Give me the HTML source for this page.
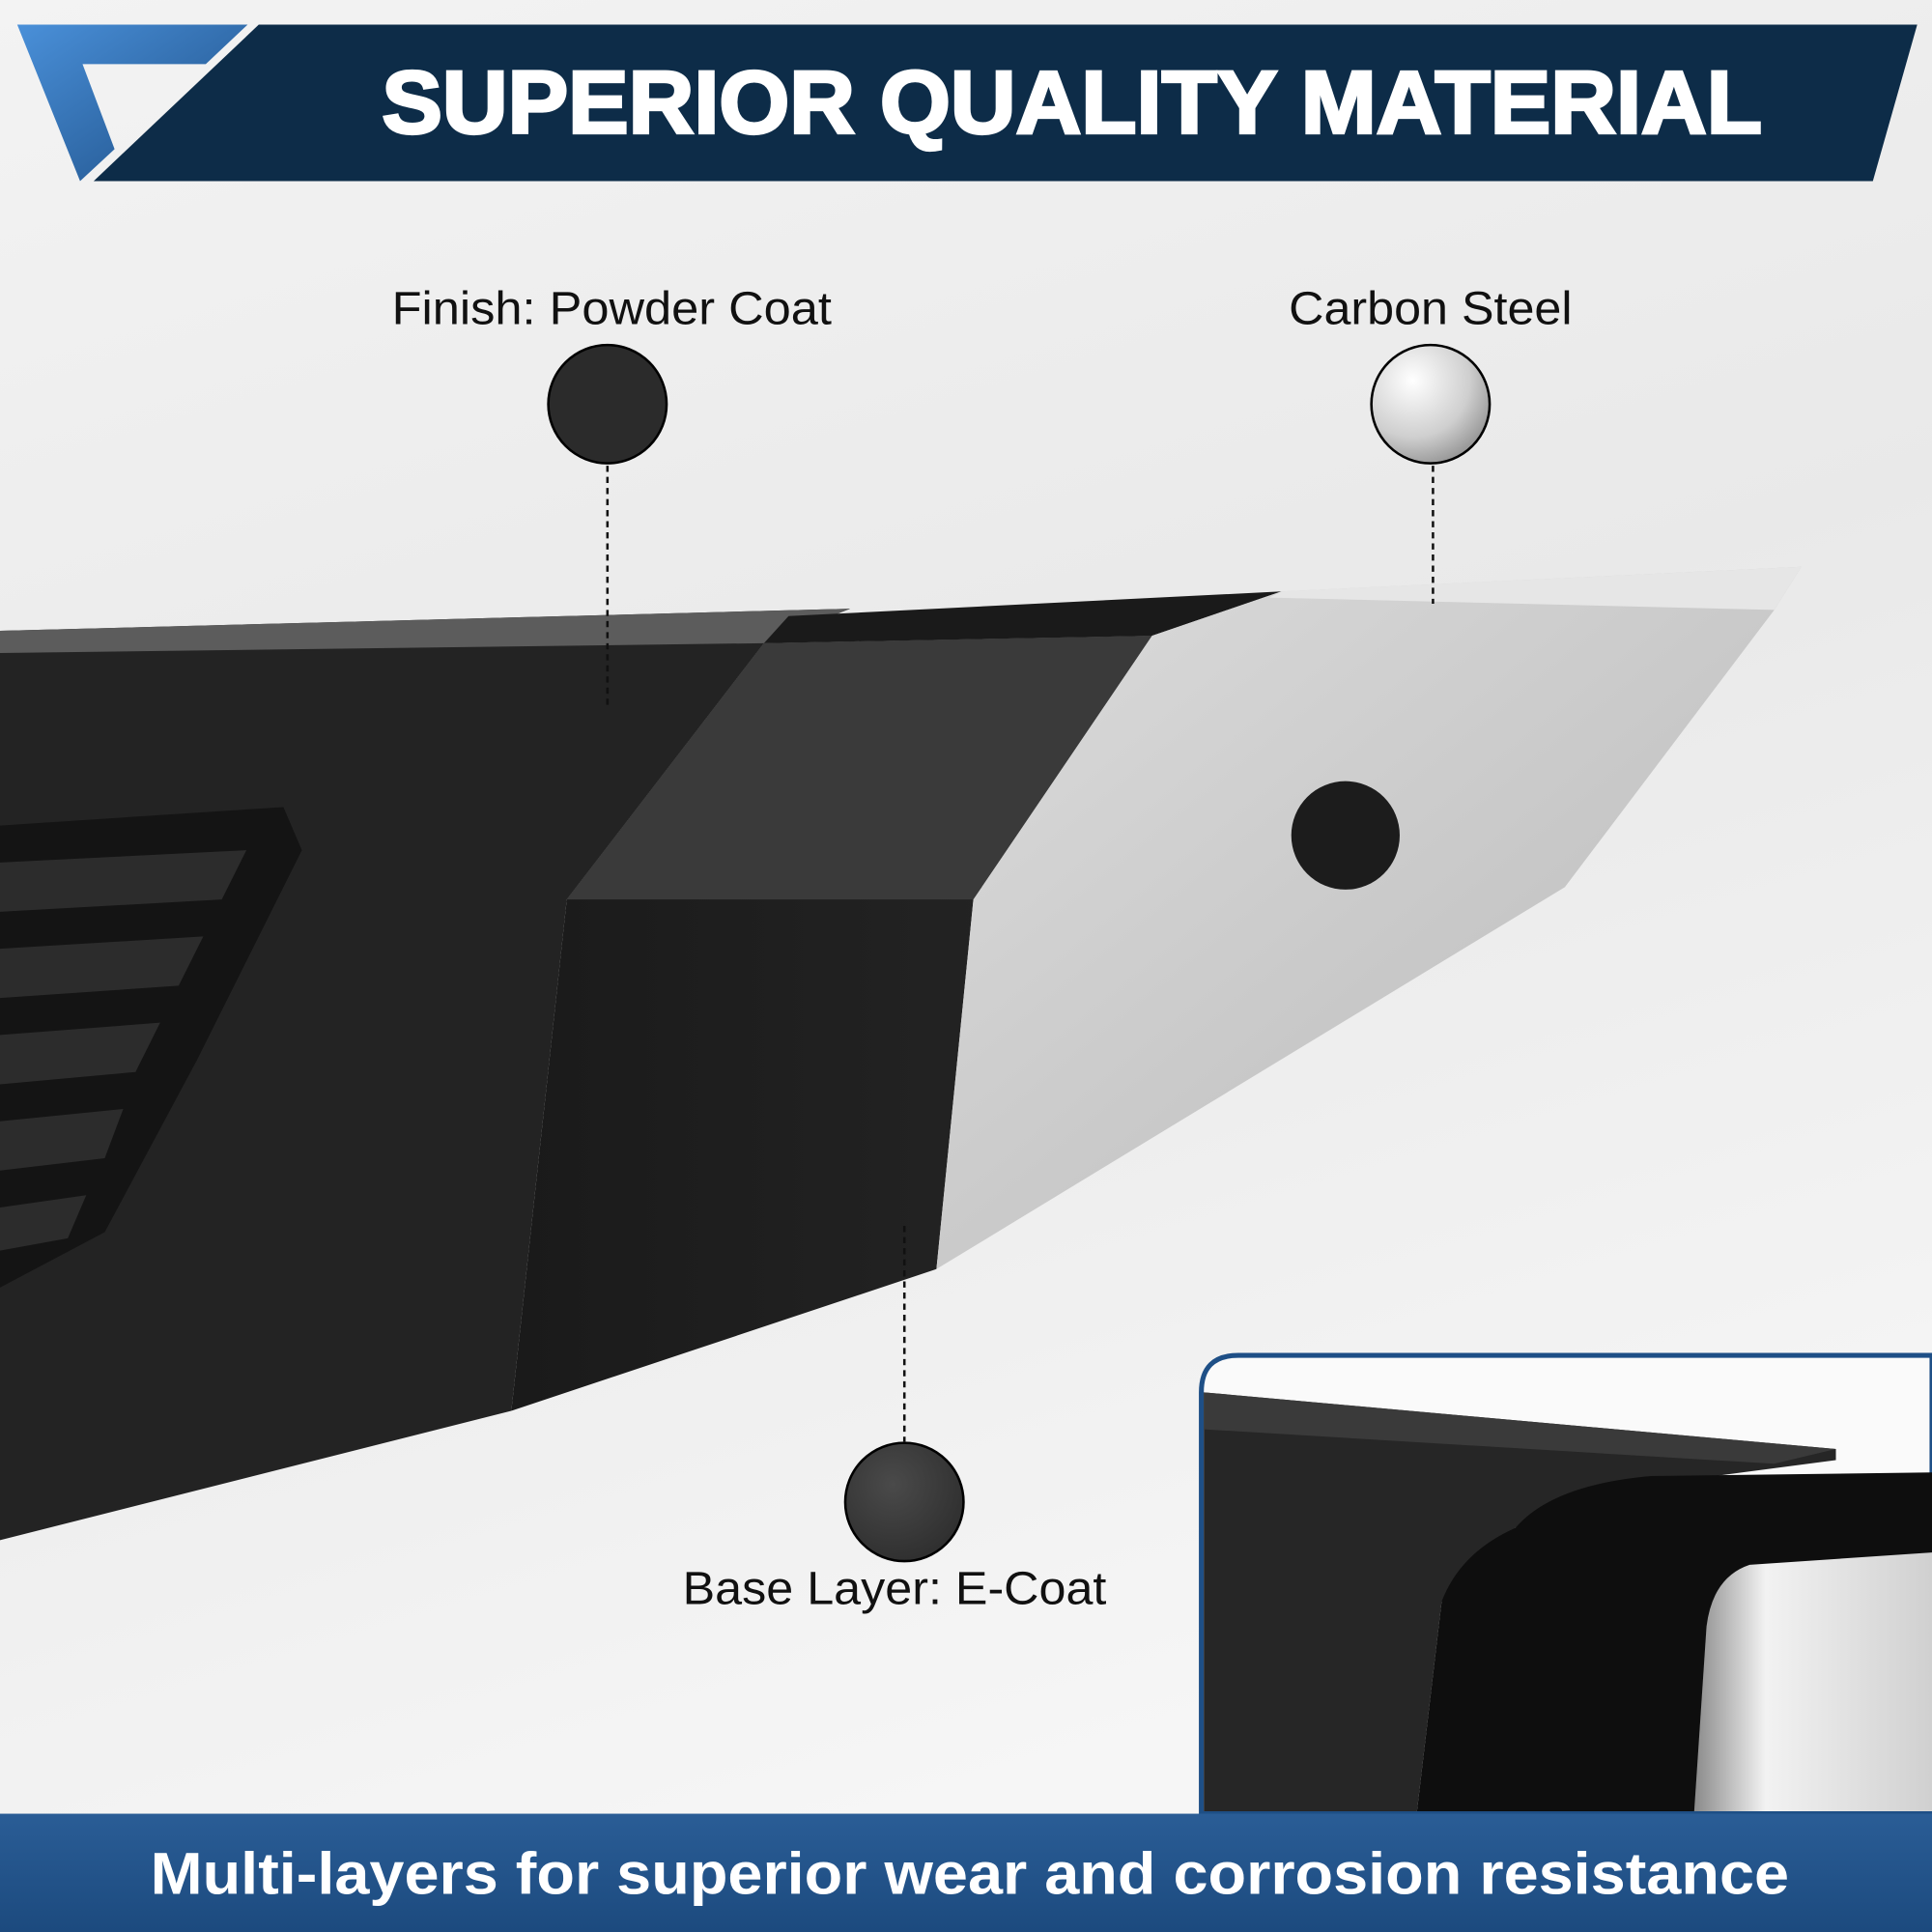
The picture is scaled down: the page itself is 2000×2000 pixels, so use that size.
<!DOCTYPE html>
<html><head><meta charset="utf-8"><style>
html,body{margin:0;padding:0;width:2000px;height:2000px;overflow:hidden;background:#eee}
svg{display:block}
text{font-family:"Liberation Sans",Arial,sans-serif}
</style></head><body>
<svg width="2000" height="2000" viewBox="0 0 1568 1568" xmlns="http://www.w3.org/2000/svg">
<defs>
<linearGradient id="bg" x1="0" y1="0" x2="0.3" y2="1">
<stop offset="0" stop-color="#f3f3f3"/><stop offset="0.5" stop-color="#e9e9e9"/><stop offset="1" stop-color="#f6f6f6"/></linearGradient>
<linearGradient id="logo" x1="0" y1="0" x2="1" y2="1">
<stop offset="0" stop-color="#4a90d9"/><stop offset="1" stop-color="#1d4e85"/></linearGradient>
<linearGradient id="bot" x1="0" y1="0" x2="0" y2="1">
<stop offset="0" stop-color="#2a5d96"/><stop offset="1" stop-color="#1c4a7e"/></linearGradient>
<linearGradient id="silver" x1="0" y1="0" x2="1" y2="1">
<stop offset="0" stop-color="#dcdcdc"/><stop offset="0.5" stop-color="#cacaca"/><stop offset="1" stop-color="#b8b8b8"/></linearGradient>
<radialGradient id="csteel" cx="0.35" cy="0.3" r="0.8">
<stop offset="0" stop-color="#ffffff"/><stop offset="0.6" stop-color="#cfcfcf"/><stop offset="1" stop-color="#8a8a8a"/></radialGradient>
<radialGradient id="ecoat" cx="0.4" cy="0.35" r="0.8">
<stop offset="0" stop-color="#4a4a4a"/><stop offset="1" stop-color="#2a2a2a"/></radialGradient>
<linearGradient id="ecblk" x1="0" y1="0" x2="1" y2="0">
<stop offset="0" stop-color="#1a1a1a"/><stop offset="1" stop-color="#262626"/></linearGradient>
<linearGradient id="insetSilver" x1="0" y1="0" x2="1" y2="0">
<stop offset="0" stop-color="#8a8a8a"/><stop offset="0.3" stop-color="#f2f2f2"/><stop offset="1" stop-color="#d0d0d0"/></linearGradient>
</defs>
<rect width="1568" height="1568" fill="url(#bg)"/>

<!-- top banner -->
<polygon points="14,20 201,20 167,52 67,52 93,121 65,147" fill="url(#logo)"/>
<polygon points="210,20 1556,20 1520,147 76,147" fill="#0d2c48"/>
<text x="310" y="108" textLength="1120" lengthAdjust="spacingAndGlyphs" font-size="72" font-weight="900" fill="#fff" stroke="#fff" stroke-width="2.5">SUPERIOR QUALITY MATERIAL</text>

<!-- rail: powder coat -->
<polygon points="0,512 690,494 620,522 460,730 415,1145 0,1250" fill="#232323"/>
<polygon points="0,512 690,494 620,522 0,530" fill="#5c5c5c"/>
<!-- vent -->
<polygon points="0,670 230,655 245,690 160,860 85,1000 0,1045" fill="#141414"/>
<g fill="#2c2c2c">
<polygon points="0,700 200,690 180,730 0,740"/>
<polygon points="0,770 165,760 145,800 0,810"/>
<polygon points="0,840 130,830 110,870 0,880"/>
<polygon points="0,910 100,900 85,940 0,950"/>
<polygon points="0,980 70,970 55,1005 0,1015"/>
</g>
<!-- e-coat block -->
<polygon points="620,522 935,516 790,730 760,1030 415,1145 460,730" fill="url(#ecblk)"/>
<polygon points="620,522 935,516 790,730 460,730" fill="#3a3a3a"/>
<polygon points="640,500 1040,480 935,516 620,522" fill="#1a1a1a"/>
<!-- silver -->
<polygon points="935,516 1040,480 1462,460 1440,495 1270,720 760,1030 790,730" fill="url(#silver)"/>
<polygon points="1040,480 1462,460 1440,495 1030,485" fill="#e6e6e6"/>
<circle cx="1092" cy="678" r="44" fill="#1c1c1c"/>

<!-- dashed leaders -->
<g stroke="#111" stroke-width="2" stroke-dasharray="5,4">
<line x1="493" y1="378" x2="493" y2="572"/>
<line x1="1163" y1="378" x2="1163" y2="490"/>
<line x1="734" y1="995" x2="734" y2="1170"/>
</g>
<circle cx="493" cy="328" r="48" fill="#2b2b2b" stroke="#000" stroke-width="2"/>
<circle cx="1161" cy="328" r="48" fill="url(#csteel)" stroke="#000" stroke-width="2"/>
<circle cx="734" cy="1219" r="48" fill="url(#ecoat)" stroke="#000" stroke-width="2"/>

<text x="318" y="263" textLength="357" lengthAdjust="spacingAndGlyphs" font-size="38" fill="#111">Finish: Powder Coat</text>
<text x="1046" y="263" textLength="230" lengthAdjust="spacingAndGlyphs" font-size="38" fill="#111">Carbon Steel</text>
<text x="554" y="1302" textLength="344" lengthAdjust="spacingAndGlyphs" font-size="38" fill="#111">Base Layer: E-Coat</text>

<!-- inset -->
<path d="M975,1472 L975,1130 Q975,1100 1005,1100 L1568,1100 L1568,1472 Z" fill="#fafafa" stroke="#1e4f86" stroke-width="4"/>
<polygon points="977,1130 1490,1176 1490,1185 1300,1210 1230,1240 1170,1300 1150,1470 977,1470" fill="#262626"/>
<polygon points="977,1130 1490,1176 1440,1188 977,1160" fill="#3a3a3a"/>
<path d="M1230,1240 Q1260,1205 1340,1198 L1568,1195 L1568,1470 L1150,1470 L1170,1300 Q1185,1260 1230,1240 Z" fill="#0e0e0e"/>
<path d="M1420,1270 Q1390,1280 1385,1320 L1375,1470 L1568,1470 L1568,1260 Z" fill="url(#insetSilver)"/>

<!-- bottom banner -->
<rect x="0" y="1472" width="1568" height="96" fill="url(#bot)"/>
<text x="122" y="1537" textLength="1330" lengthAdjust="spacingAndGlyphs" font-size="48" font-weight="bold" fill="#fff">Multi-layers for superior wear and corrosion resistance</text>
</svg>
</body></html>
